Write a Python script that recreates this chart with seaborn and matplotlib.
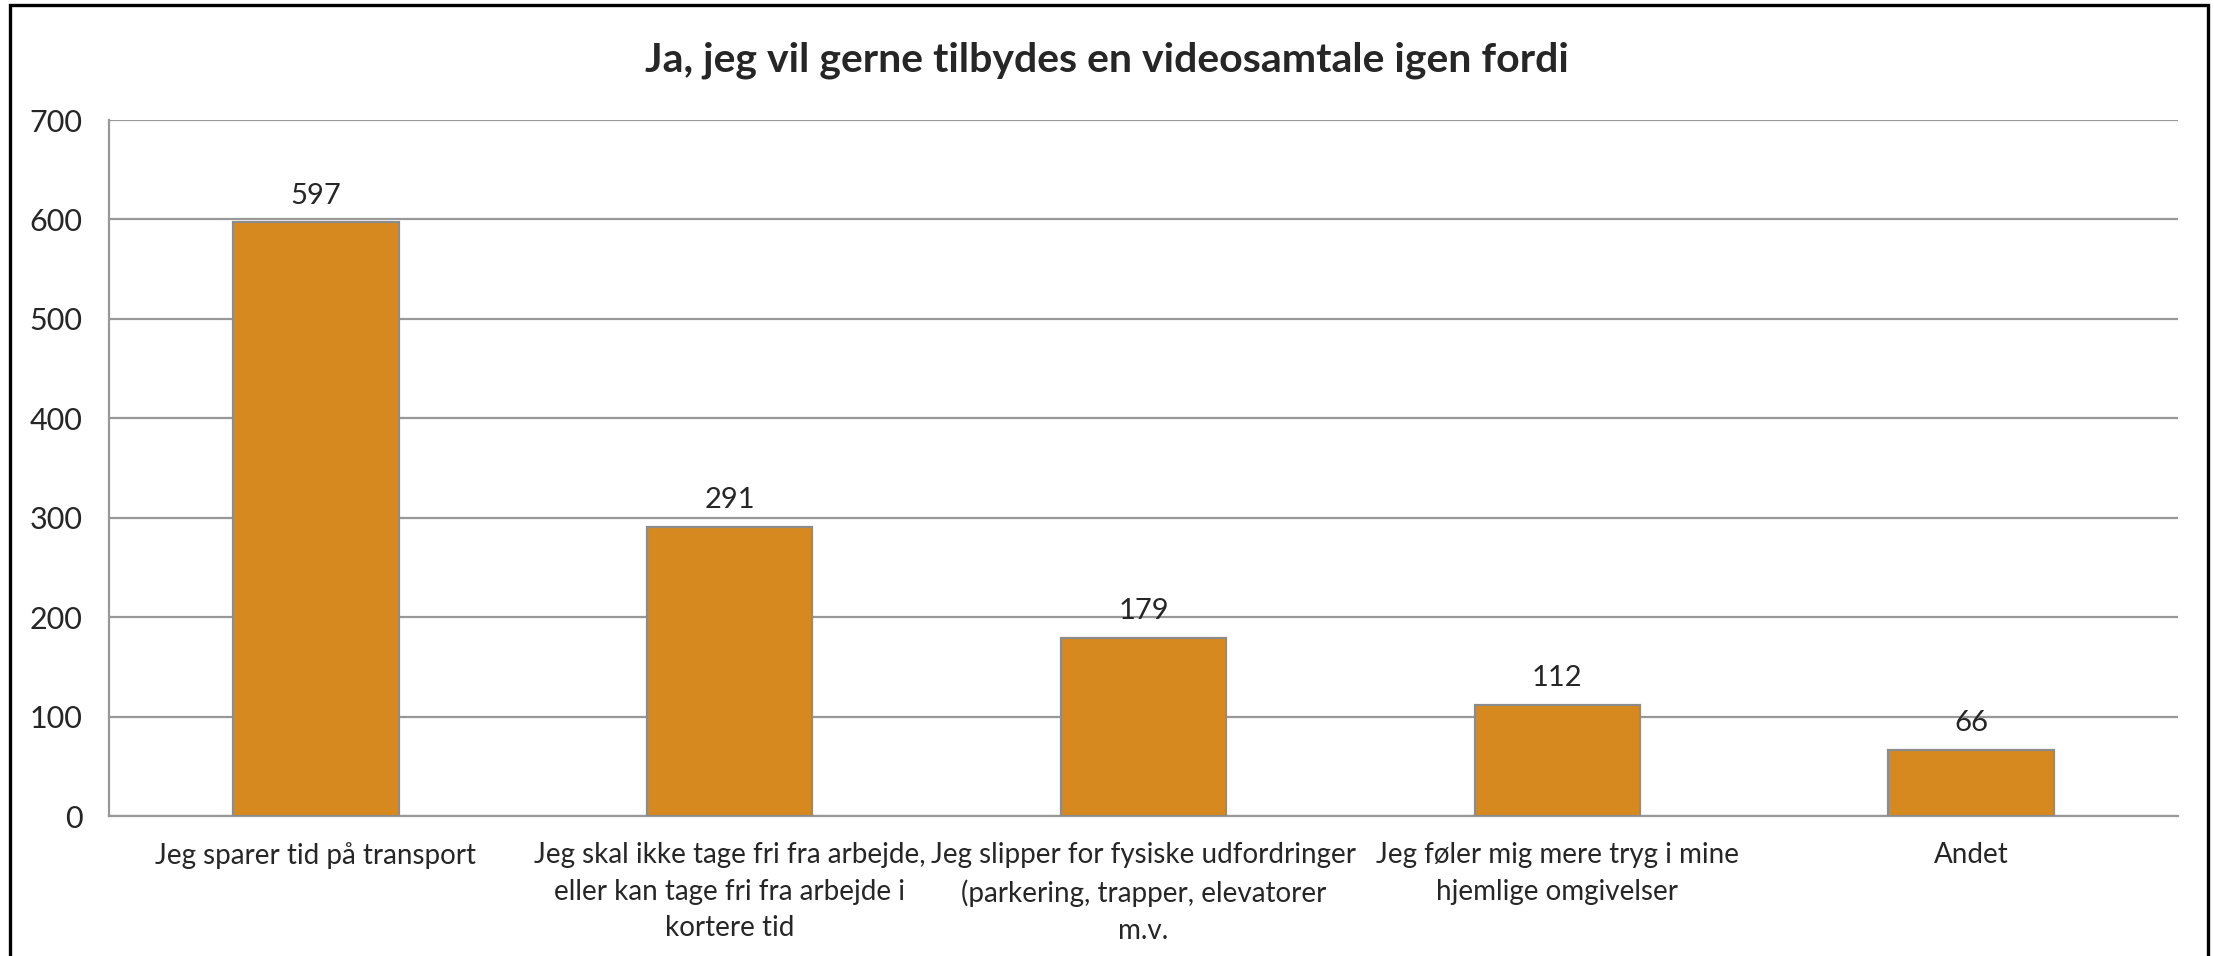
import matplotlib
matplotlib.use("Agg")
import matplotlib.pyplot as plt
import seaborn as sns
from matplotlib.patches import Rectangle

categories = [
    "Jeg sparer tid på transport",
    "Jeg skal ikke tage fri fra arbejde,\neller kan tage fri fra arbejde i\nkortere tid",
    "Jeg slipper for fysiske udfordringer\n(parkering, trapper, elevatorer\nm.v.",
    "Jeg føler mig mere tryg i mine\nhjemlige omgivelser",
    "Andet",
]
counts = [597, 291, 179, 112, 66]
yticks = [0, 100, 200, 300, 400, 500, 600, 700]
title = "Ja, jeg vil gerne tilbydes en videosamtale igen fordi"

sns.set_theme(style="white")
plt.rcParams["font.family"] = ["Lato", "DejaVu Sans"]

W, H = 2214, 956
fig = plt.figure(figsize=(W / 100, H / 100), dpi=100)
ax = fig.add_axes([109 / W, 1 - 816 / H, (2178 - 109) / W, (816 - 120) / H])

grid_col = "#989898"
sns.barplot(x=categories, y=counts, color="#D6891F", width=0.4,
            edgecolor="#8C8C8C", linewidth=1.6, saturation=1, ax=ax, zorder=3)

ax.set_ylim(0, 700)
ax.set_xlim(-0.5, len(categories) - 0.5)
ax.set_yticks(yticks)
ax.set_yticklabels([str(t) for t in yticks], fontsize=22)
ax.yaxis.grid(True, color=grid_col, linewidth=1.6, zorder=0)
ax.set_axisbelow(True)

# category ticks sit between the bars
ax.set_xticks(range(len(categories)))
ax.set_xticklabels(categories, fontsize=20, linespacing=1.5)
ax.tick_params(axis="x", length=0, pad=19)
ax.set_xticks([i + 0.5 for i in range(-1, len(categories))], minor=True)
ax.tick_params(axis="x", which="minor", length=9, width=1.6, color=grid_col, direction="out")
ax.tick_params(axis="y", length=9, width=1.6, color=grid_col, direction="out", pad=10)

for s in ["top", "right"]:
    ax.spines[s].set_visible(False)
for s in ["left", "bottom"]:
    ax.spines[s].set_color(grid_col)
    ax.spines[s].set_linewidth(1.6)

for i, v in enumerate(counts):
    ax.annotate(str(v), (i, v), xytext=(0, 10), textcoords="offset points",
                ha="center", va="bottom", fontsize=21)

fig.text(0.5, 1 - 60 / H, title, ha="center", va="center",
         fontsize=29.5, fontweight="bold")

# outer chart frame
fig.patches.append(Rectangle((10 / W, -0.05), (2208 - 10) / W, 1 - 5 / H + 0.05,
                             transform=fig.transFigure, fill=False,
                             edgecolor="black", linewidth=2.4))

fig.savefig("out.png", dpi=100)
